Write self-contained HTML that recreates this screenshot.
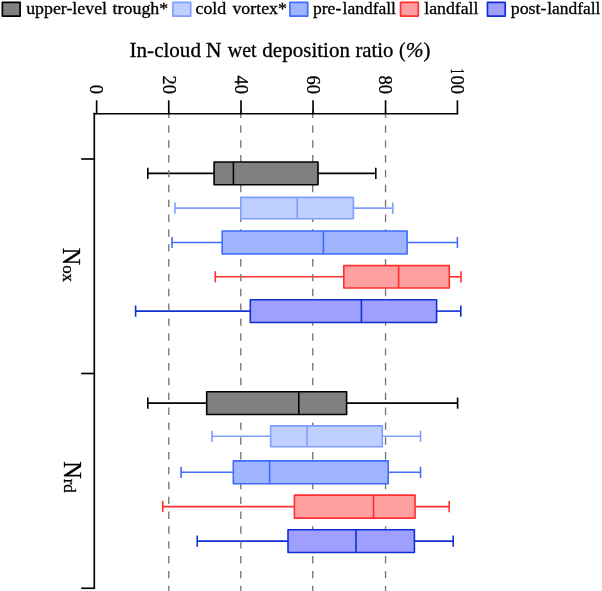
<!DOCTYPE html>
<html><head><meta charset="utf-8"><title>chart</title>
<style>
html,body{margin:0;padding:0;background:#fff;}
svg{display:block;will-change:transform;}
text{font-family:"Liberation Serif",serif;fill:#000;stroke:#000;stroke-width:0.3px;}
</style></head><body>
<svg width="602" height="591" viewBox="0 0 602 591">
<rect x="0" y="0" width="602" height="591" fill="#fff"/>
<g stroke="#000000" stroke-width="1.6" fill="none">
<line x1="147.8" y1="173.4" x2="214.1" y2="173.4"/>
<line x1="318.0" y1="173.4" x2="375.8" y2="173.4"/>
<line x1="147.8" y1="167.8" x2="147.8" y2="179.0"/>
<line x1="375.8" y1="167.8" x2="375.8" y2="179.0"/>
</g>
<g stroke="#7f9fff" stroke-width="1.6" fill="none">
<line x1="175.0" y1="208.1" x2="240.8" y2="208.1"/>
<line x1="353.4" y1="208.1" x2="392.8" y2="208.1"/>
<line x1="175.0" y1="202.5" x2="175.0" y2="213.7"/>
<line x1="392.8" y1="202.5" x2="392.8" y2="213.7"/>
</g>
<g stroke="#3f6bff" stroke-width="1.6" fill="none">
<line x1="172.0" y1="242.5" x2="222.2" y2="242.5"/>
<line x1="407.1" y1="242.5" x2="457.4" y2="242.5"/>
<line x1="172.0" y1="236.9" x2="172.0" y2="248.1"/>
<line x1="457.4" y1="236.9" x2="457.4" y2="248.1"/>
</g>
<g stroke="#ff3030" stroke-width="1.6" fill="none">
<line x1="215.3" y1="276.8" x2="343.8" y2="276.8"/>
<line x1="449.3" y1="276.8" x2="461.0" y2="276.8"/>
<line x1="215.3" y1="271.2" x2="215.3" y2="282.40000000000003"/>
<line x1="461.0" y1="271.2" x2="461.0" y2="282.40000000000003"/>
</g>
<g stroke="#1030d4" stroke-width="1.6" fill="none">
<line x1="135.6" y1="311.1" x2="250.3" y2="311.1"/>
<line x1="436.6" y1="311.1" x2="460.8" y2="311.1"/>
<line x1="135.6" y1="305.5" x2="135.6" y2="316.70000000000005"/>
<line x1="460.8" y1="305.5" x2="460.8" y2="316.70000000000005"/>
</g>
<g stroke="#000000" stroke-width="1.6" fill="none">
<line x1="147.8" y1="403.1" x2="206.7" y2="403.1"/>
<line x1="346.6" y1="403.1" x2="457.6" y2="403.1"/>
<line x1="147.8" y1="397.5" x2="147.8" y2="408.70000000000005"/>
<line x1="457.6" y1="397.5" x2="457.6" y2="408.70000000000005"/>
</g>
<g stroke="#7f9fff" stroke-width="1.6" fill="none">
<line x1="212.0" y1="436.3" x2="270.6" y2="436.3"/>
<line x1="382.3" y1="436.3" x2="420.5" y2="436.3"/>
<line x1="212.0" y1="430.7" x2="212.0" y2="441.90000000000003"/>
<line x1="420.5" y1="430.7" x2="420.5" y2="441.90000000000003"/>
</g>
<g stroke="#3f6bff" stroke-width="1.6" fill="none">
<line x1="181.1" y1="472.3" x2="233.3" y2="472.3"/>
<line x1="388.2" y1="472.3" x2="420.5" y2="472.3"/>
<line x1="181.1" y1="466.7" x2="181.1" y2="477.90000000000003"/>
<line x1="420.5" y1="466.7" x2="420.5" y2="477.90000000000003"/>
</g>
<g stroke="#ff3030" stroke-width="1.6" fill="none">
<line x1="162.7" y1="506.6" x2="294.4" y2="506.6"/>
<line x1="415.1" y1="506.6" x2="449.2" y2="506.6"/>
<line x1="162.7" y1="501.0" x2="162.7" y2="512.2"/>
<line x1="449.2" y1="501.0" x2="449.2" y2="512.2"/>
</g>
<g stroke="#1030d4" stroke-width="1.6" fill="none">
<line x1="197.2" y1="541.1" x2="288.0" y2="541.1"/>
<line x1="414.4" y1="541.1" x2="453.2" y2="541.1"/>
<line x1="197.2" y1="535.5" x2="197.2" y2="546.7"/>
<line x1="453.2" y1="535.5" x2="453.2" y2="546.7"/>
</g>
<g stroke="#767676" stroke-width="1.35" stroke-dasharray="7.4 7.45" fill="none">
<line x1="168.80" y1="110.55" x2="168.80" y2="592"/>
<line x1="240.80" y1="110.55" x2="240.80" y2="592"/>
<line x1="312.75" y1="110.55" x2="312.75" y2="592"/>
<line x1="385.55" y1="110.55" x2="385.55" y2="592"/>
</g>
<g stroke="#000000" stroke-width="1.6" fill="none" stroke-linejoin="round">
<rect x="214.1" y="162.05" width="103.90" height="22.70" fill="#808080"/>
<line x1="233.4" y1="162.05" x2="233.4" y2="184.75"/>
</g>
<g stroke="#7f9fff" stroke-width="1.6" fill="none" stroke-linejoin="round">
<rect x="240.8" y="197.40" width="112.60" height="21.40" fill="#bfcfff"/>
<line x1="297.2" y1="197.40" x2="297.2" y2="218.80"/>
</g>
<g stroke="#3f6bff" stroke-width="1.6" fill="none" stroke-linejoin="round">
<rect x="222.2" y="231.00" width="184.90" height="23.00" fill="#9fb5ff"/>
<line x1="323.4" y1="231.00" x2="323.4" y2="254.00"/>
</g>
<g stroke="#ff3030" stroke-width="1.6" fill="none" stroke-linejoin="round">
<rect x="343.8" y="265.60" width="105.50" height="22.40" fill="#ff9f9f"/>
<line x1="398.6" y1="265.60" x2="398.6" y2="288.00"/>
</g>
<g stroke="#1030d4" stroke-width="1.6" fill="none" stroke-linejoin="round">
<rect x="250.3" y="299.75" width="186.30" height="22.70" fill="#9f9fff"/>
<line x1="361.4" y1="299.75" x2="361.4" y2="322.45"/>
</g>
<g stroke="#000000" stroke-width="1.6" fill="none" stroke-linejoin="round">
<rect x="206.7" y="391.70" width="139.90" height="22.80" fill="#808080"/>
<line x1="298.8" y1="391.70" x2="298.8" y2="414.50"/>
</g>
<g stroke="#7f9fff" stroke-width="1.6" fill="none" stroke-linejoin="round">
<rect x="270.6" y="425.90" width="111.70" height="20.80" fill="#bfcfff"/>
<line x1="307.0" y1="425.90" x2="307.0" y2="446.70"/>
</g>
<g stroke="#3f6bff" stroke-width="1.6" fill="none" stroke-linejoin="round">
<rect x="233.3" y="460.90" width="154.90" height="22.80" fill="#9fb5ff"/>
<line x1="269.6" y1="460.90" x2="269.6" y2="483.70"/>
</g>
<g stroke="#ff3030" stroke-width="1.6" fill="none" stroke-linejoin="round">
<rect x="294.4" y="495.10" width="120.70" height="23.00" fill="#ff9f9f"/>
<line x1="373.5" y1="495.10" x2="373.5" y2="518.10"/>
</g>
<g stroke="#1030d4" stroke-width="1.6" fill="none" stroke-linejoin="round">
<rect x="288.0" y="529.70" width="126.40" height="22.80" fill="#9f9fff"/>
<line x1="356.0" y1="529.70" x2="356.0" y2="552.50"/>
</g>
<g stroke="#000" stroke-width="1.65" fill="none" stroke-linecap="butt">
<line x1="94.3" y1="112.85" x2="94.3" y2="589.05"/>
<line x1="93.45" y1="113.7" x2="458.25" y2="113.7"/>
<line x1="96.63" y1="100.3" x2="96.63" y2="113.7"/>
<line x1="168.74" y1="100.3" x2="168.74" y2="113.7"/>
<line x1="241.00" y1="100.3" x2="241.00" y2="113.7"/>
<line x1="313.05" y1="100.3" x2="313.05" y2="113.7"/>
<line x1="385.56" y1="100.3" x2="385.56" y2="113.7"/>
<line x1="457.40" y1="100.3" x2="457.40" y2="113.7"/>
<line x1="81.2" y1="159.0" x2="94.3" y2="159.0"/>
<line x1="81.2" y1="373.5" x2="94.3" y2="373.5"/>
<line x1="81.2" y1="588.25" x2="94.3" y2="588.25"/>
</g>
<text transform="translate(26.13,14.0) scale(1.0572,1)" font-size="16.9">upper-level</text>
<text transform="translate(112.62,14.0) scale(1.0593,1)" font-size="16.9">trough*</text>
<text transform="translate(195.48,14.0) scale(1.0594,1)" font-size="16.9">cold</text>
<text transform="translate(232.40,14.0) scale(1.0574,1)" font-size="16.9">vortex*</text>
<text transform="translate(312.94,14.0) scale(1.0431,1)" font-size="16.9">pre-</text>
<text transform="translate(342.55,14.0) scale(1.0362,1)" font-size="16.9">landfall</text>
<text transform="translate(424.24,14.0) scale(1.0519,1)" font-size="16.9">landfall</text>
<text transform="translate(510.73,14.0) scale(1.0560,1)" font-size="16.9">post-</text>
<text transform="translate(547.15,14.0) scale(1.0323,1)" font-size="16.9">landfall</text>
<text transform="translate(129.56,57.4) scale(1.0332,1)" font-size="20.4">In-cloud</text>
<text transform="translate(205.65,57.4) scale(1.0682,1)" font-size="20.4">N</text>
<text transform="translate(227.80,57.4) scale(0.9770,1)" font-size="20.4">wet</text>
<text transform="translate(262.36,57.4) scale(1.0304,1)" font-size="20.4">deposition</text>
<text transform="translate(355.38,57.4) scale(1.0204,1)" font-size="20.4">ratio</text>
<text transform="translate(399.01,57.4) scale(0.9708,1)" font-size="20.4">(</text>
<text transform="translate(423.48,57.4) scale(1.0181,1)" font-size="20.4">)</text>
<text transform="translate(405.82,57.4) scale(1.0485,1)" font-size="20.4" font-style="italic">%</text>
<text transform="translate(90.43,84.78) rotate(90) scale(0.9750,1)" font-size="19.0" stroke-width="0.1">0</text>
<text transform="translate(162.54,75.52) rotate(90) scale(0.9750,1)" font-size="19.0" stroke-width="0.1">20</text>
<text transform="translate(234.80,75.52) rotate(90) scale(0.9750,1)" font-size="19.0" stroke-width="0.1">40</text>
<text transform="translate(306.85,75.52) rotate(90) scale(0.9750,1)" font-size="19.0" stroke-width="0.1">60</text>
<text transform="translate(379.36,75.52) rotate(90) scale(0.9750,1)" font-size="19.0" stroke-width="0.1">80</text>
<text transform="translate(451.20,75.52) rotate(90) scale(0.9750,1)" font-size="19.0" stroke-width="0.1">00</text>
<text transform="translate(451.20,68.77) rotate(90) scale(0.5414,1)" font-size="19.0" stroke-width="0.1">1</text>
<text transform="translate(62.7,247.7) rotate(90)" font-size="24.2"><tspan>N</tspan><tspan font-size="16.8">ox</tspan></text>
<text transform="translate(63.5,461.2) rotate(90)" font-size="24.2"><tspan>N</tspan><tspan font-size="16.8">rd</tspan></text>
<rect x="2.35" y="2.35" width="17.75" height="13.75" fill="#808080" stroke="#000000" stroke-width="1.7" stroke-linejoin="round"/>
<rect x="172.95" y="2.35" width="17.75" height="13.75" fill="#bfcfff" stroke="#7f9fff" stroke-width="1.7" stroke-linejoin="round"/>
<rect x="289.95" y="2.35" width="17.75" height="13.75" fill="#9fb5ff" stroke="#3f6bff" stroke-width="1.7" stroke-linejoin="round"/>
<rect x="400.55" y="2.35" width="17.75" height="13.75" fill="#ff9f9f" stroke="#ff3030" stroke-width="1.7" stroke-linejoin="round"/>
<rect x="487.45" y="2.35" width="17.75" height="13.75" fill="#9f9fff" stroke="#1030d4" stroke-width="1.7" stroke-linejoin="round"/>
</svg></body></html>
